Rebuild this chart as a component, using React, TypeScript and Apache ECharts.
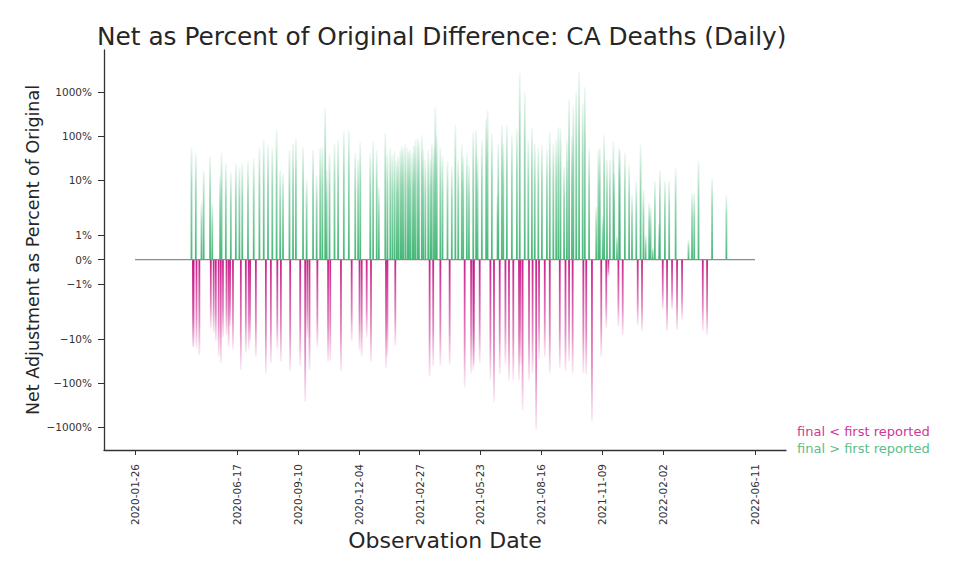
import React, { useEffect, useRef } from "react";
import * as echarts from "echarts";

// Start of the day scale; every day value below is an offset in days from it.
const baseDate = "2020-01-26";
const xTickDates = [
  "2020-01-26", "2020-06-17", "2020-09-10", "2020-12-04", "2021-02-27",
  "2021-05-23", "2021-08-16", "2021-11-09", "2022-02-02", "2022-06-11",
];
const yTickPct = [-1000, -100, -10, -1, 0, 1, 10, 100, 1000];
const yTickLabels = ["−1000%", "−100%", "−10%", "−1%", "0%", "1%", "10%", "100%", "1000%"];

// final > first reported (net adjustment, percent of original)
const posDays = [
  79, 85, 93, 96, 105, 108, 119, 121, 127, 134, 141, 146, 150, 158, 166, 174, 180, 186, 192, 198,
  203, 207, 216, 221, 225, 235, 240, 249, 254, 259, 262, 266, 268, 272, 279, 284, 292, 299, 308, 312,
  315, 329, 333, 338, 341, 350, 353, 357, 360, 363, 366, 368, 371, 373, 375, 378, 381, 383, 385, 388,
  390, 392, 395, 397, 401, 403, 406, 410, 413, 415, 418, 420, 422, 427, 430, 437, 443, 448, 452, 457,
  459, 464, 467, 473, 477, 479, 485, 491, 493, 499, 507, 508, 513, 515, 520, 527, 534, 538, 545, 550,
  555, 559, 564, 569, 576, 580, 585, 589, 592, 595, 600, 604, 607, 611, 613, 617, 621, 626, 629, 635,
  645, 648, 650, 654, 656, 660, 664, 669, 670, 674, 677, 678, 685, 691, 695, 701, 707, 711, 714, 719,
  721, 724, 727, 733, 734, 741, 747, 756, 774, 779, 782, 788, 807, 827,
];
const posPct = [
  55, 41, 3, 17, 34, 3, 12, 41, 24, 15, 24, 20, 24, 27, 31, 55, 81, 63, 55, 138,
  17, 14, 48, 68, 89, 55, 10, 48, 13, 55, 55, 430, 17, 41, 68, 81, 126, 138, 41, 29,
  74, 41, 74, 48, 7, 115, 40, 55, 37, 45, 27, 35, 48, 60, 52, 68, 55, 45, 48, 41,
  60, 81, 89, 75, 106, 50, 29, 48, 30, 68, 55, 470, 97, 55, 34, 27, 20, 178, 29, 63,
  34, 41, 22, 126, 138, 34, 81, 250, 390, 115, 5, 68, 178, 68, 178, 106, 150, 2700, 1020, 81,
  150, 68, 55, 63, 48, 126, 68, 81, 160, 150, 20, 81, 660, 97, 470, 1000, 2900, 560, 1300, 52,
  2.5, 48, 55, 1.8, 106, 29, 29, 74, 14, 1, 55, 48, 41, 22, 4.5, 9, 63, 6, 1, 3,
  2.4, 0.5, 9.5, 1.5, 17, 9.5, 9.5, 18, 0.8, 5, 5, 27, 11, 4.5,
];

// final < first reported (net adjustment, percent of original)
const negDays = [
  81, 82, 86, 90, 106, 110, 113, 117, 120, 123, 128, 131, 133, 137, 148, 155, 159, 161, 169, 183,
  190, 199, 204, 217, 231, 238, 241, 244, 255, 270, 273, 288, 303, 314, 317, 324, 330, 351, 353, 364,
  412, 417, 427, 440, 461, 470, 473, 474, 482, 497, 502, 510, 518, 523, 529, 537, 539, 542, 551, 556,
  561, 565, 573, 580, 594, 602, 607, 612, 627, 631, 639, 652, 659, 662, 676, 682, 703, 709, 738, 744,
  751, 758, 765, 794, 800,
];
const negPct = [
  -14.7, -15, -16, -23, -5.6, -7, -11, -24, -35, -9, -8, -15, -5, -17, -50, -20, -17, -11, -25, -59,
  -35, -17, -32, -53, -40, -262, -9, -50, -15, -32, -30, -53, -11, -18, -24, -9, -32, -45, -24, -14,
  -69, -40, -40, -37, -124, -59, -50, -40, -35, -83, -262, -62, -37, -86, -86, -86, -37, -400, -86, -59,
  -1150, -28, -25, -59, -45, -53, -32, -59, -59, -62, -740, -25, -5.5, -0.7, -5, -8, -4.7, -6.5, -2.1, -6.5,
  -2.1, -6, -3.5, -6.5, -8,
];

const GREEN = "60,179,113";
const MAGENTA = "199,21,133";

const DAY = 86400000;
const baseMs = Date.parse(baseDate + "T00:00:00Z");
const toDay = (s: string) => Math.round((Date.parse(s + "T00:00:00Z") - baseMs) / DAY);
const xTickDays = xTickDates.map(toDay);
const firstDay = xTickDays[0];
const lastDay = xTickDays[xTickDays.length - 1];
const margin = (lastDay - firstDay) * 0.05;

// symmetric log scale (linthresh 2%, linscale 1)
const LT = 2;
const LS = 1 / (1 - 1 / 10);
const symlog = (v: number) => {
  const a = Math.abs(v);
  const t = a <= LT ? (a / LT) * LS : LS + Math.log10(a / LT);
  return Math.sign(v) * t;
};
const yTickT = yTickPct.map(symlog);

const FONT = "DejaVu Sans";

export default function App() {
  const ref = useRef<HTMLDivElement>(null);
  useEffect(() => {
    if (!ref.current) return;
    const chart = echarts.init(ref.current, null, { renderer: "svg" });
    const posGrad = new echarts.graphic.LinearGradient(0, 0, 0, 1, [
      { offset: 0, color: `rgba(${GREEN},0.08)` },
      { offset: 0.35, color: `rgba(${GREEN},0.5)` },
      { offset: 1, color: `rgba(${GREEN},0.95)` },
    ]);
    const negGrad = new echarts.graphic.LinearGradient(0, 0, 0, 1, [
      { offset: 0, color: `rgba(${MAGENTA},0.95)` },
      { offset: 0.65, color: `rgba(${MAGENTA},0.5)` },
      { offset: 1, color: `rgba(${MAGENTA},0.08)` },
    ]);
    chart.setOption({
      animation: false,
      backgroundColor: "#ffffff",
      title: {
        text: "Net as Percent of Original Difference: CA Deaths (Daily)",
        left: 84,
        top: 11,
        textStyle: { fontFamily: FONT, fontSize: 24.8, fontWeight: "normal", color: "#262626" },
      },
      legend: {
        orient: "vertical",
        left: 779,
        top: 412,
        itemGap: 4,
        itemWidth: 0,
        itemHeight: 0,
        selectedMode: false,
        data: [
          { name: "final < first reported", icon: "none", textStyle: { color: "rgb(207,56,151)" } },
          { name: "final > first reported", icon: "none", textStyle: { color: "rgb(89,190,134)" } },
        ],
        textStyle: { fontFamily: FONT, fontSize: 13 },
      },
      grid: { left: 96, top: 42, width: 682, height: 400, containLabel: false },
      xAxis: {
        type: "value",
        min: firstDay - margin,
        max: lastDay + margin,
        name: "Observation Date",
        nameLocation: "middle",
        nameGap: 79,
        nameMoveOverlap: false,
        nameTextStyle: { fontFamily: FONT, fontSize: 22, color: "#262626" },
        axisLine: { show: true, onZero: false, lineStyle: { color: "#333", width: 1.3 } },
        axisTick: { show: true, length: 5, customValues: xTickDays, lineStyle: { color: "#333" } },
        axisLabel: {
          customValues: xTickDays,
          rotate: 90,
          margin: 14,
          fontFamily: FONT,
          fontSize: 10.5,
          color: "#333",
          formatter: (v: number) => {
            const i = xTickDays.indexOf(Math.round(v));
            return i >= 0 ? xTickDates[i] : "";
          },
        },
        splitLine: { show: false },
      },
      yAxis: {
        type: "value",
        min: -4.325,
        max: 4.766,
        name: "Net Adjustment as Percent of Original",
        nameLocation: "middle",
        nameGap: 62,
        nameMoveOverlap: false,
        nameTextStyle: { fontFamily: FONT, fontSize: 17.5, color: "#262626" },
        axisLine: { show: true, onZero: false, lineStyle: { color: "#333", width: 1.3 } },
        axisTick: { show: true, length: 6, customValues: yTickT, lineStyle: { color: "#333" } },
        axisLabel: {
          customValues: yTickT,
          margin: 12,
          fontFamily: FONT,
          fontSize: 10.5,
          color: "#333",
          formatter: (v: number) => {
            let best = 0;
            yTickT.forEach((t, i) => {
              if (Math.abs(t - v) < Math.abs(yTickT[best] - v)) best = i;
            });
            return yTickLabels[best];
          },
        },
        splitLine: { show: false },
      },
      series: [
        {
          name: "final < first reported",
          type: "bar",
          barWidth: 1.8,
          barGap: "-100%",
          data: negDays.map((d, i) => [d, symlog(negPct[i])]),
          itemStyle: { color: negGrad },
        },
        {
          name: "final > first reported",
          type: "bar",
          barWidth: 1.8,
          barGap: "-100%",
          data: posDays.map((d, i) => [d, symlog(posPct[i])]),
          itemStyle: { color: posGrad },
        },
        {
          name: "zero",
          type: "line",
          data: [[firstDay, 0], [lastDay, 0]],
          symbol: "none",
          lineStyle: { color: "#8c8c8c", width: 1.2 },
          z: 5,
          silent: true,
        },
      ],
    });
    return () => chart.dispose();
  }, []);
  return <div ref={ref} style={{ width: 939, height: 559 }} />;
}
